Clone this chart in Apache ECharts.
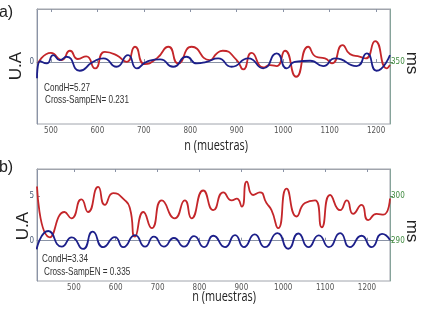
<!DOCTYPE html>
<html>
<head>
<meta charset="utf-8">
<script src="https://cdn.jsdelivr.net/npm/echarts@6/dist/echarts.min.js"></script>
<style>
html, body { margin: 0; padding: 0; background: #fff; }
#chart_box { width: 434px; height: 318px; }
</style>
</head>
<body>
<div id="chart_box"></div>
<script>
/* panel a: muestras / valores */
var nRedA = [472, 500, 523, 541, 558, 576, 595, 616, 641, 663, 681, 702, 728, 753, 774, 803, 842, 857, 870, 900, 914, 932, 957, 972, 986, 1004, 1028, 1054, 1071, 1090, 1105, 1128, 1144, 1166, 1178, 1198, 1223, 1230];
var redA = [-0.15, 1.05, 0.23, 1.28, 0.35, 0.65, -0.71, 1.16, 0.79, 0.03, 1.73, -0.23, 0.42, 1.73, -0.15, 1.73, 0.23, 0.98, 1.28, 0.23, -0.82, 1.05, -0.6, -0.34, -0.45, 1.28, -1.66, 1.73, 0.6, 0.42, -0.15, 1.92, 0.9, 0.6, 0.42, 2.37, -0.71, -0.34];
var nBlueA = [470, 477, 491, 505, 519, 534, 562, 591, 613, 641, 666, 685, 706, 735, 763, 792, 814, 835, 860, 889, 925, 957, 986, 1008, 1025, 1058, 1086, 1112, 1158, 1180, 1201, 1230];
var blueA = [-1.84, 0.1, -0.15, 0.79, 0.23, 0.6, -0.98, 0.03, 0.42, -0.53, 0.79, -0.71, 0.03, 0.31, -0.53, 0.6, -0.15, 0.03, 0.42, -0.53, 0.42, -0.71, 0.98, -0.71, 0.03, 0.15, -0.45, 0.42, -0.45, 0.98, -0.98, 0.79];

/* panel b */
var nRedB = [412, 443, 478, 494, 518, 534, 558, 574, 594, 622, 634, 646, 666, 686, 710, 741, 765, 781, 809, 833, 857, 877, 889, 901, 913, 928, 944, 960, 972, 988, 1008, 1032, 1052, 1076, 1092, 1112, 1136, 1152, 1167, 1187, 1203, 1223, 1239, 1255];
var redB = [6.05, 0.38, 3.2, 2.5, 4.6, 3.2, 6.0, 4.0, 5.3, 4.5, 3.6, 0.45, 3.2, 1.4, 4.5, 2.5, 4.5, 2.5, 5.6, 3.4, 5.4, 4.5, 4.7, 3.8, 6.6, 5.1, 5.4, 4.2, 3.4, 1.4, 5.8, 2.7, 4.2, 4.5, 1.5, 5.1, 3.4, 4.5, 3.0, 4.0, 2.3, 3.0, 2.9, 4.7];
var nBlueB = [411, 439, 471, 495, 522, 545, 570, 598, 618, 646, 670, 691, 715, 739, 763, 787, 811, 833, 861, 885, 906, 932, 956, 986, 1012, 1036, 1060, 1085, 1109, 1136, 1159, 1187, 1211, 1236, 1255];
var blueB = [-0.96, 1.08, -0.67, 0.38, -0.92, 1.0, -0.72, 0.4, -0.72, 0.63, -0.67, 0.45, -0.67, 0.3, -0.67, 0.5, -0.72, 0.55, -0.72, 0.63, -0.72, 0.7, -0.72, 0.85, -0.9, 0.8, -0.72, 0.6, -0.72, 0.85, -0.72, 0.55, -0.72, 0.75, 0.08];

/* ticks */
var xTicks = [500, 600, 700, 800, 900, 1000, 1100, 1200];
var uaTicksA = [0];
var uaTicksB = [0, 5];
var msTicksA = [350];
var msTicksB = [290, 300];

function pairs(xs, ys) {
	var out = [];
	for(var i = 0; i < xs.length; i++) {
		out.push([xs[i], ys[i]]);
	}
	return out;
}
function plain(v) {
	return String(v);
}

var narrow = 'DejaVu Sans Condensed, sans-serif';
var leftCol = '#8a93a6';
var rightCol = '#86a39a';

function bottomAxis(idx, min, max) {
	return {
		type: 'value', gridIndex: idx, position: 'bottom', min: min, max: max,
		axisLine: { show: true, lineStyle: { color: leftCol } },
		axisTick: { show: true, inside: true, length: 3, customValues: xTicks, lineStyle: { color: leftCol } },
		axisLabel: { customValues: xTicks, formatter: plain, fontFamily: narrow, fontSize: 8, color: '#555', margin: 3 },
		splitLine: { show: false }
	};
}
function topAxis(idx, min, max) {
	return {
		type: 'value', gridIndex: idx, position: 'top', min: min, max: max,
		axisLine: { show: true, lineStyle: { color: '#a0a4ac' } },
		axisTick: { show: true, inside: true, length: 3, customValues: xTicks, lineStyle: { color: leftCol } },
		axisLabel: { show: false },
		splitLine: { show: false }
	};
}
function leftAxis(idx, min, max, ticks) {
	return {
		type: 'value', gridIndex: idx, position: 'left', min: min, max: max,
		axisLine: { show: true, lineStyle: { color: leftCol } },
		axisTick: { show: true, inside: true, length: 3, customValues: ticks, lineStyle: { color: leftCol } },
		axisLabel: { customValues: ticks, formatter: plain, fontFamily: narrow, fontSize: 8, color: '#4a5a78', margin: 3 },
		splitLine: { show: false }
	};
}
function rightAxis(idx, min, max, ticks) {
	return {
		type: 'value', gridIndex: idx, position: 'right', min: min, max: max,
		axisLine: { show: true, lineStyle: { color: rightCol } },
		axisTick: { show: true, inside: false, length: 3, customValues: ticks, lineStyle: { color: '#5a8a5a' } },
		axisLabel: { customValues: ticks, formatter: plain, fontFamily: narrow, fontSize: 8, color: '#3f8a3f', margin: 1 },
		splitLine: { show: false }
	};
}
function lineSeries(xi, yi, data, color) {
	return {
		type: 'line', xAxisIndex: xi, yAxisIndex: yi, data: data,
		smooth: 0.6, showSymbol: false, silent: true,
		lineStyle: { color: color, width: 1.8 }
	};
}
/* textos */
function note(x, y, txt) {
	return { type: 'text', x: x, y: y, scaleX: 0.74,
		style: { text: txt, fontFamily: 'Liberation Sans, Arial, sans-serif', fontSize: 11, fill: '#333', verticalAlign: 'middle' } };
}
function label(x, y, txt, size, rot, sx) {
	return { type: 'text', x: x, y: y, rotation: rot, scaleX: sx,
		style: { text: txt, fontFamily: 'Liberation Sans, Arial, sans-serif', fontSize: size, fill: '#222', align: 'center', verticalAlign: 'middle' } };
}
function xName(x, y) {
	return { type: 'text', x: x, y: y, scaleX: 0.78,
		style: { text: 'n (muestras)', fontFamily: 'Open Sans, sans-serif', fontSize: 14, fill: '#222', align: 'center', verticalAlign: 'middle' } };
}

var myChart = echarts.init(document.getElementById('chart_box'), null, { renderer: 'canvas' });
var option = {
	animation: false,
	backgroundColor: '#fff',
	grid: [
		{ left: 37, right: 44, top: 9, height: 115, show: true, borderColor: '#a0a4ac', borderWidth: 1 },
		{ left: 37, right: 44, top: 169, height: 112, show: true, borderColor: '#a0a4ac', borderWidth: 1 }
	],
	xAxis: [
		bottomAxis(0, 470, 1230), topAxis(0, 470, 1230),
		bottomAxis(1, 412, 1255), topAxis(1, 412, 1255)
	],
	yAxis: [
		leftAxis(0, -7, 6, uaTicksA), rightAxis(0, 343, 356, msTicksA),
		leftAxis(1, -4.5, 8, uaTicksB), rightAxis(1, 281, 306, msTicksB)
	],
	series: [
		lineSeries(0, 0, pairs(nRedA, redA), '#c4262a'),
		lineSeries(0, 0, pairs(nBlueA, blueA), '#1c1f8a'),
		lineSeries(2, 2, pairs(nRedB, redB), '#c4262a'),
		lineSeries(2, 2, pairs(nBlueB, blueB), '#1c1f8a')
	],
	graphic: [
		label(6, 13, 'a)', 16, 0, 1),
		label(6, 168, 'b)', 16, 0, 1),
		label(16, 66, 'U.A', 17, Math.PI / 2, 1),
		label(23, 226, 'U.A', 17, Math.PI / 2, 1),
		label(412, 63, 'ms', 17, -Math.PI / 2, 1),
		label(412, 231, 'ms', 17, -Math.PI / 2, 1),
		xName(216, 146),
		xName(224, 297),
		note(44, 88, 'CondH=5.27'),
		note(45, 100, 'Cross-SampEN= 0.231'),
		note(42, 259, 'CondH=3.34'),
		note(44, 272, 'Cross-SampEN = 0.335')
	]
};
myChart.setOption(option);
</script>
</body>
</html>
